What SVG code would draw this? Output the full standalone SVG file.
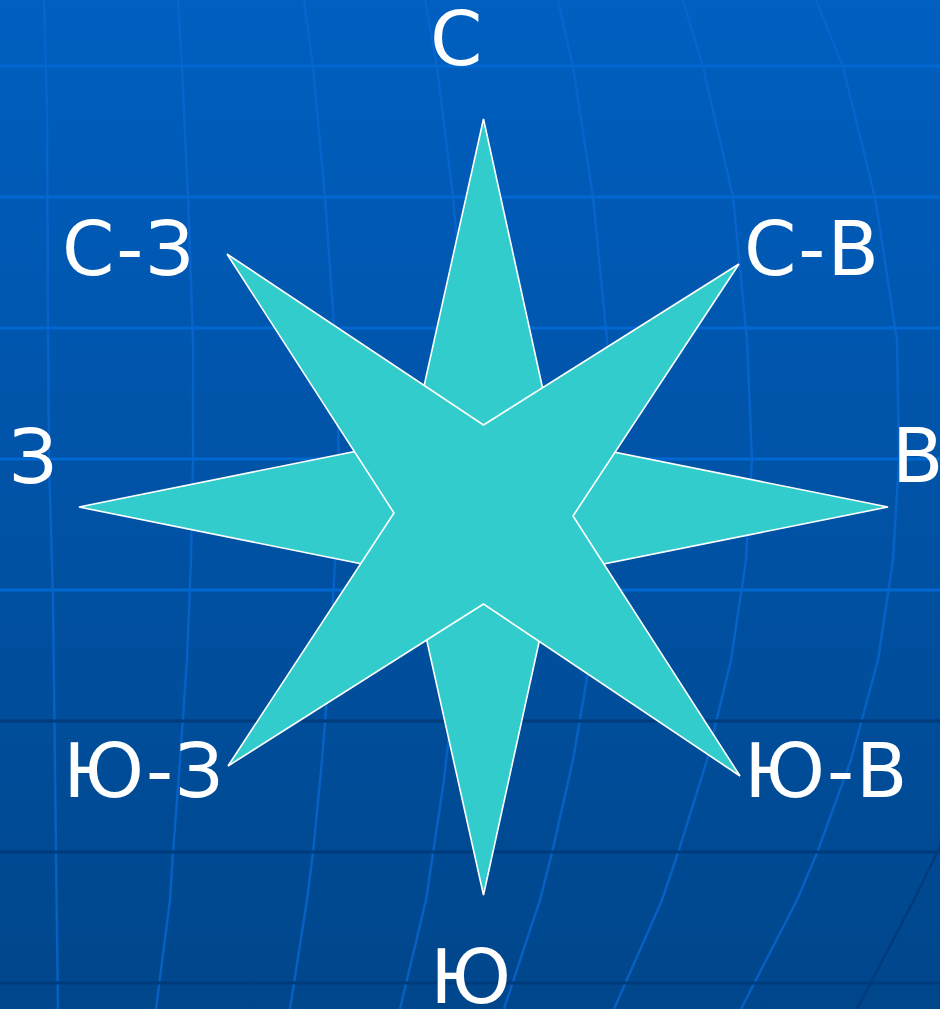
<svg xmlns="http://www.w3.org/2000/svg" width="940" height="1009" viewBox="0 0 940 1009">
  <defs>
    <linearGradient id="bg" x1="0" y1="0" x2="0" y2="1">
      <stop offset="0" stop-color="#005FC0"/>
      <stop offset="1" stop-color="#00468B"/>
    </linearGradient>
  </defs>
  <style>
    .mer { fill: none; stroke: #0868D2; stroke-width: 2.5; stroke-opacity: 0.75; stroke-linejoin: round; }
    .hl { stroke: #0068D0; stroke-width: 3; }
    .hd { stroke: #003B7C; stroke-width: 3; }
    .md { fill: none; stroke: #003B7C; stroke-width: 2.5; }
    .star { fill: #33CCCC; stroke: #FFFFFF; stroke-width: 1.6; stroke-linejoin: miter; }
    .lbl { font-family: "DejaVu Sans", "Noto Sans", sans-serif; font-size: 75px; fill: #FFFFFF; }
    .sp { letter-spacing: 2px; }
  </style>
  <rect x="0" y="0" width="940" height="1009" fill="url(#bg)"/>
  <g id="grid">
    <polyline class="mer" points="44,0 47,110 48,330 49,460 53,600 56,853 58,1009"/>
    <polyline class="mer" points="178,0 182,67 188,197 193,340 193,460 191,560 187,660 180,760 173,853 170,900 156,1009"/>
    <polyline class="mer" points="304,0 313,67 325,197 335,340 339,460 335,560 330,660 322,760 313,853 307,900 290,1009"/>
    <polyline class="mer" points="425,0 437,67 453,197 464,320 468,430 464,560 455,680 444,780 433,853 426,900 400,1009"/>
    <polyline class="mer" points="558,0 573,67 593,197 607,340 608,460 601,560 590,660 573,760 552,853 540,900 504,1009"/>
    <polyline class="mer" points="683,0 703,67 733,197 747,340 752,460 746,560 731,660 707,760 678,853 662,900 614,1009"/>
    <polyline class="mer" points="816,0 843,67 875,197 897,340 899,460 893,560 878,660 851,760 817,853 797,900 741,1009"/>
    <polyline class="md" points="945,838 937,853 914,900 857,1009"/>
    <line class="hl" x1="0" y1="66" x2="940" y2="66"/>
    <line class="hl" x1="0" y1="197" x2="940" y2="197"/>
    <line class="hl" x1="0" y1="328" x2="940" y2="328"/>
    <line class="hl" x1="0" y1="459" x2="940" y2="459"/>
    <line class="hl" x1="0" y1="590" x2="940" y2="590"/>
    <line class="hd" x1="0" y1="721" x2="940" y2="721"/>
    <line class="hd" x1="0" y1="852" x2="940" y2="852"/>
    <line class="hd" x1="0" y1="983" x2="940" y2="983"/>
  </g>
  <g id="star">
    <polygon id="star-main" class="star" points="483.5,119 554,440 888,507 554,574 483.5,895 412,574 79,507 412,440"/>
    <polygon id="star-diag" class="star" points="227,254 483.5,425 739,264 573,516 740,776 483.5,604 228,766 394,513"/>
  </g>
  <g id="labels">
    <text id="n" class="lbl" x="430" y="65">С</text>
    <text id="nw" class="lbl sp" x="62" y="275">С-З</text>
    <text id="ne" class="lbl sp" x="744" y="275">С-В</text>
    <text id="w" class="lbl" x="9" y="483">З</text>
    <text id="e" class="lbl" x="892" y="482">В</text>
    <text id="sw" class="lbl sp" x="63" y="797">Ю-З</text>
    <text id="se" class="lbl sp" x="744" y="797">Ю-В</text>
    <text id="s" class="lbl" x="430" y="1003">Ю</text>
  </g>
</svg>
